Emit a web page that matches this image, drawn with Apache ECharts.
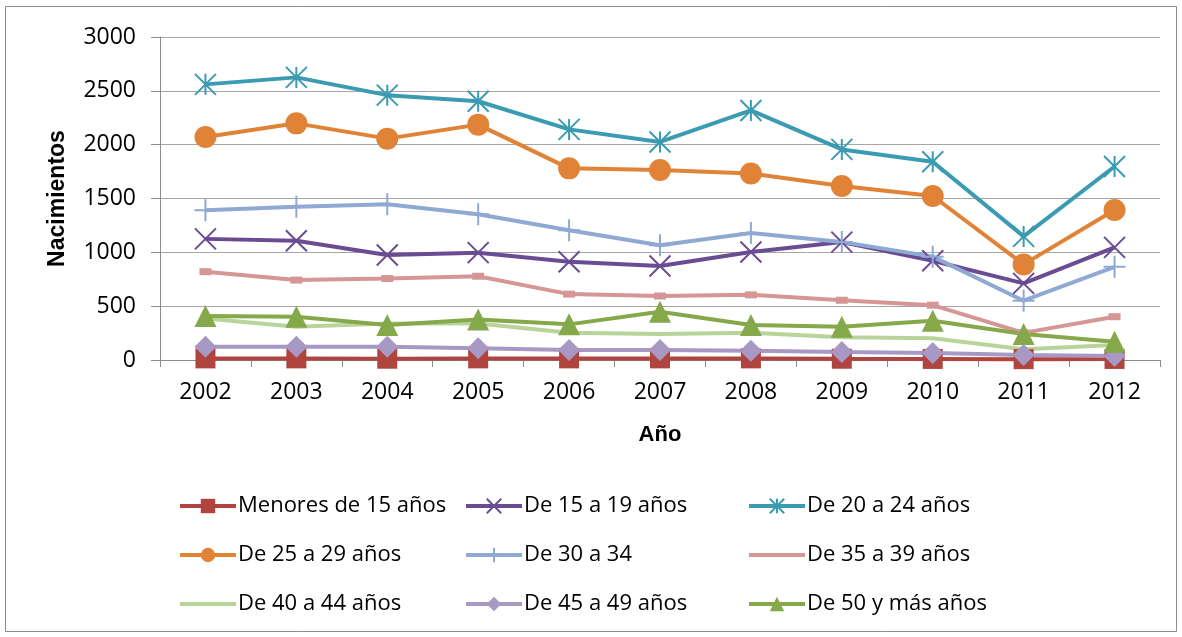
<!DOCTYPE html>
<html>
<head>
<meta charset="utf-8">
<script src="https://cdn.jsdelivr.net/npm/echarts@6/dist/echarts.min.js"></script>
<style>
  html, body { margin: 0; padding: 0; background: #fff; }
  #chart { width: 1182px; height: 637px; }
</style>
</head>
<body>
<div id="chart"></div>
<script>
// Nacimientos por grupo de edad de la madre, 2002-2012
const years = ['2002', '2003', '2004', '2005', '2006', '2007', '2008', '2009', '2010', '2011', '2012'];
const yTicks = [0, 500, 1000, 1500, 2000, 2500, 3000];

const menores15 = [15, 15, 12, 15, 15, 15, 15, 12, 10, 8, 10];
const de15a19   = [1125, 1108, 975, 997, 913, 873, 1003, 1095, 922, 712, 1046];
const de20a24   = [2560, 2625, 2460, 2403, 2142, 2025, 2318, 1956, 1842, 1148, 1797];
const de25a29   = [2072, 2198, 2056, 2186, 1780, 1764, 1733, 1616, 1523, 888, 1393];
const de30a34   = [1392, 1424, 1446, 1354, 1205, 1066, 1180, 1097, 960, 551, 866];
const de35a39   = [820, 742, 757, 778, 612, 594, 605, 555, 509, 252, 402];
const de40a44   = [386, 309, 340, 340, 254, 242, 254, 211, 201, 99, 139];
const de45a49   = [124, 124, 122, 108, 93, 93, 87, 75, 66, 46, 37];
const de50ymas  = [408, 402, 325, 376, 331, 448, 325, 309, 365, 241, 170];

const names = [
  'Menores de 15 años', 'De 15 a 19 años', 'De 20 a 24 años',
  'De 25 a 29 años', 'De 30 a 34', 'De 35 a 39 años',
  'De 40 a 44 años', 'De 45 a 49 años', 'De 50 y más años'
];

const FONT = '"Open Sans", Lato, sans-serif';
const TITLE_FONT = '"Liberation Sans", Arial, sans-serif';
const X_PATH = 'path://M0,0L20,20M20,0L0,20';
const STAR_PATH = 'path://M0,0L20,20M20,0L0,20M10,0L10,20';
const PLUS_PATH = 'path://M10,0L10,20M3,10L17,10';

const styles = [
  { data: menores15, color: '#B0443F', symbol: 'rect', size: 20, stroke: false, legendMark: true },
  { data: de15a19,   color: '#6A4C93', symbol: X_PATH, size: 21, stroke: true, legendMark: true },
  { data: de20a24,   color: '#3A9BB2', symbol: STAR_PATH, size: 21, stroke: true, legendMark: true },
  { data: de25a29,   color: '#E08337', symbol: 'circle', size: 22, stroke: false, legendMark: true },
  { data: de30a34,   color: '#8FA9D3', symbol: PLUS_PATH, size: 22, stroke: true, legendMark: true },
  { data: de35a39,   color: '#D69695', symbol: 'rect', size: [12, 7], stroke: false, legendMark: false },
  { data: de40a44,   color: '#B8D49B', symbol: 'none', size: 0, stroke: false, legendMark: false },
  { data: de45a49,   color: '#A898C4', symbol: 'diamond', size: 22, stroke: false, legendMark: true },
  { data: de50ymas,  color: '#85A94A', symbol: 'triangle', size: 22, stroke: false, legendMark: true }
];

const series = styles.map((s, i) => ({
  name: names[i],
  type: 'line',
  data: s.data,
  symbol: s.symbol,
  symbolSize: s.size,
  animation: false,
  lineStyle: { color: s.color, width: 4 },
  itemStyle: s.stroke
    ? { color: s.color, borderColor: s.color, borderWidth: 2 }
    : { color: s.color, borderWidth: 0 }
}));

// legend in three columns, one component per entry;
// entries with small or no markers show only their line
const colX = [178, 464, 747];
const rowY = [495, 544, 593];
const legends = names.map((n, i) => ({
  data: [styles[i].legendMark ? n : { name: n, itemStyle: { opacity: 0 } }],
  left: colX[i % 3],
  top: rowY[Math.floor(i / 3)],
  itemWidth: 56,
  itemHeight: 18,
  itemGap: 0,
  padding: 0,
  lineStyle: { width: 4 },
  textStyle: { fontFamily: FONT, fontSize: 22, color: '#000', padding: [0, 0, 0, -3] },
  selectedMode: false
}));

const chart = echarts.init(document.getElementById('chart'), null, { renderer: 'canvas' });
chart.setOption({
  backgroundColor: '#fff',
  animation: false,
  graphic: [{
    type: 'rect',
    shape: { x: 5.5, y: 6.5, width: 1171, height: 625 },
    style: { fill: 'none', stroke: '#8c8c8c', lineWidth: 1 },
    silent: true, z: -1
  }],
  grid: { left: 160, right: 22, top: 37, bottom: 277, containLabel: false },
  legend: legends,
  xAxis: {
    type: 'category',
    data: years,
    boundaryGap: true,
    name: 'Año',
    nameLocation: 'middle',
    nameGap: 64,
    nameTextStyle: { fontFamily: TITLE_FONT, fontSize: 22, fontWeight: 'bold', color: '#000' },
    axisLine: { lineStyle: { color: '#8c8c8c', width: 1 } },
    axisTick: { show: true, length: 7, inside: false, lineStyle: { color: '#8c8c8c' } },
    axisLabel: { fontFamily: FONT, fontSize: 23, color: '#000', margin: 21 },
    splitLine: { show: false }
  },
  yAxis: {
    type: 'value',
    min: yTicks[0],
    max: yTicks[yTicks.length - 1],
    interval: yTicks[1] - yTicks[0],
    name: 'Nacimientos',
    nameLocation: 'middle',
    nameGap: 91,
    nameTextStyle: { fontFamily: TITLE_FONT, fontSize: 23, fontWeight: 'bold', color: '#000' },
    axisLine: { show: true, lineStyle: { color: '#8c8c8c', width: 1 } },
    axisTick: { show: true, length: 9, lineStyle: { color: '#8c8c8c' } },
    axisLabel: { fontFamily: FONT, fontSize: 23, color: '#000', margin: 24, formatter: v => String(v) },
    splitLine: { show: true, lineStyle: { color: '#a6a6a6', width: 1 } }
  },
  series: series
});
</script>
</body>
</html>
